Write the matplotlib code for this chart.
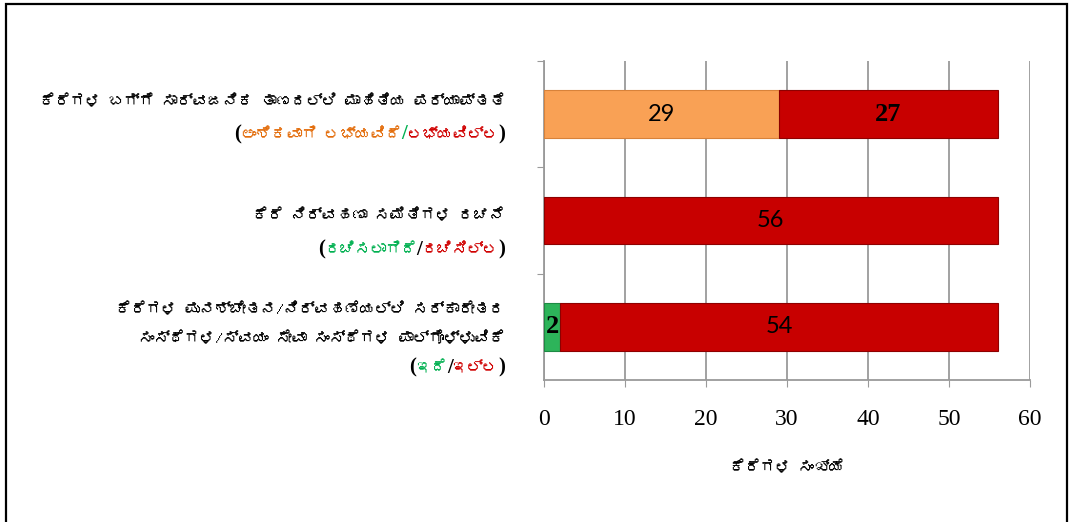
import matplotlib
matplotlib.use("Agg")
import matplotlib.pyplot as plt
from matplotlib import font_manager
from matplotlib.ft2font import FT2Font
from matplotlib.patches import Rectangle


# data (top category first)
CATEGORY_LINES = [
    ["ಕೆರೆಗಳ ಬಗ್ಗೆ ಸಾರ್ವಜನಿಕ ತಾಣದಲ್ಲಿ ಮಾಹಿತಿಯ ಪರ್ಯಾಪ್ತತೆ"],
    ["ಕೆರೆ ನಿರ್ವಹಣಾ ಸಮಿತಿಗಳ ರಚನೆ"],
    ["ಕೆರೆಗಳ ಪುನಶ್ಚೇತನ/ನಿರ್ವಹಣೆಯಲ್ಲಿ ಸರ್ಕಾರೇತರ",
     "ಸಂಸ್ಥೆಗಳ/ಸ್ವಯಂ ಸೇವಾ ಸಂಸ್ಥೆಗಳ ಪಾಲ್ಗೊಳ್ಳುವಿಕೆ"],
]
YES_LABELS = ["ಅಂಶಿಕವಾಗಿ ಲಭ್ಯವಿದೆ", "ರಚಿಸಲಾಗಿದೆ", "ಇದೆ"]
NO_LABELS = ["ಲಭ್ಯವಿಲ್ಲ", "ರಚಿಸಿಲ್ಲ", "ಇಲ್ಲ"]
YES_VALUES = [29, 0, 2]
NO_VALUES = [27, 56, 54]
X_TICKS = [0, 10, 20, 30, 40, 50, 60]
X_LABEL = "ಕೆರೆಗಳ ಸಂಖ್ಯೆ"

ORANGE = "#F9A155"
RED = "#C80000"
GREEN = "#2DB45A"
YES_COLORS = [ORANGE, GREEN, GREEN]
YES_TEXT_COLORS = ["#E36C0A", "#00B050", "#00B050"]
SLASH_COLORS = ["#00B050", "black", "black"]
NO_TEXT_COLOR = "#D00000"
GRID_COLOR = "#9A9A9A"
KN_SIZE = 11


def find_kannada_font():
    for entry in font_manager.fontManager.ttflist:
        try:
            if 0x0C95 in FT2Font(entry.fname).get_charmap():
                return entry.name
        except Exception:
            continue
    return None


kn_font = find_kannada_font()
KN_FAMILY = [kn_font, "DejaVu Sans"] if kn_font else ["DejaVu Sans"]
SERIF = ["Liberation Serif", "DejaVu Serif"]
SANS = ["Lato", "DejaVu Sans"]

fig = plt.figure(figsize=(10.82, 5.22), dpi=100)
ax = fig.add_axes([544 / 1082, 1 - 380 / 522, 486 / 1082, 319 / 522])

y_pos = list(range(len(YES_VALUES)))
bar_h = 0.45

ax.barh(y_pos, YES_VALUES, height=bar_h, color=YES_COLORS,
        edgecolor=["#D8823A", "#1E8A44", "#1E8A44"], linewidth=0.8, zorder=3)
ax.barh(y_pos, NO_VALUES, left=YES_VALUES, height=bar_h, color=RED,
        edgecolor="#8E0000", linewidth=0.8, zorder=3)

# value labels (mixed fonts as in the original)
yes_label_style = [dict(family=SANS, size=17), None, dict(family=SERIF, weight="bold", size=19)]
no_label_style = [dict(family=SERIF, weight="bold", size=19), dict(family=SANS, size=17),
                  dict(family=SANS, size=17)]
for i in y_pos:
    if YES_VALUES[i] > 0:
        ax.text(YES_VALUES[i] / 2, i, str(YES_VALUES[i]), ha="center", va="center",
                color="black", zorder=4, **yes_label_style[i])
    ax.text(YES_VALUES[i] + NO_VALUES[i] / 2, i, str(NO_VALUES[i]), ha="center",
            va="center", color="black", zorder=4, **no_label_style[i])

ax.set_xlim(0, 60)
ax.set_ylim(len(y_pos) - 0.5, -0.5)
ax.set_xticks(X_TICKS)
ax.set_xticklabels([str(t) for t in X_TICKS], fontfamily=SERIF, fontsize=17)
ax.set_yticks([-0.5, 0.5, 1.5])
ax.set_yticklabels([])
ax.tick_params(axis="x", direction="out", length=5, color=GRID_COLOR, pad=16)
ax.tick_params(axis="y", direction="out", length=5, color=GRID_COLOR)
ax.grid(axis="x", color=GRID_COLOR, linewidth=1.3, zorder=0)
ax.set_axisbelow(True)
for side in ["top", "right"]:
    ax.spines[side].set_visible(False)
for side in ["left", "bottom"]:
    ax.spines[side].set_color(GRID_COLOR)
    ax.spines[side].set_linewidth(1.3)

ax.set_xlabel(X_LABEL, fontfamily=KN_FAMILY, fontsize=KN_SIZE, fontweight="bold")
ax.xaxis.set_label_coords(0.5, -0.25)

# category labels: black title lines plus a coloured (yes/no) line
px_per_unit = 319 / 3
line_offsets = [[-14, 19], [-6, 28], [-19, 10, 40]]
label_x = -0.08
for i in y_pos:
    offs = line_offsets[i]
    for j, line in enumerate(CATEGORY_LINES[i]):
        ax.text(label_x, i + (offs[j] + 6) / px_per_unit, line, transform=ax.get_yaxis_transform(),
                ha="right", va="baseline", fontsize=KN_SIZE, fontweight="bold",
                fontfamily=KN_FAMILY, color="black")
    yb = i + (offs[-1] + 6) / px_per_unit
    pieces = [(")", "black", SERIF), (NO_LABELS[i], NO_TEXT_COLOR, KN_FAMILY),
              ("/", SLASH_COLORS[i], SERIF), (YES_LABELS[i], YES_TEXT_COLORS[i], KN_FAMILY),
              ("(", "black", SERIF)]
    prev = ax.text(label_x, yb, pieces[0][0], transform=ax.get_yaxis_transform(),
                   ha="right", va="baseline", fontsize=15, fontweight="bold",
                   fontfamily=SERIF, color="black")
    for txt, col, fam in pieces[1:]:
        prev = ax.annotate(txt, xy=(0, yb), xycoords=(prev, "data"), ha="right",
                           va="baseline", fontsize=15 if fam is SERIF else KN_SIZE,
                           fontweight="bold", fontfamily=fam, color=col,
                           annotation_clip=False)

# outer frame of the chart (its bottom edge lies below the picture)
fig.add_artist(Rectangle((6 / 1082, -0.05), 1061 / 1082, 1.05 - 4 / 522,
                         transform=fig.transFigure, fill=False, edgecolor="black",
                         linewidth=1.6))

fig.savefig("out.png", dpi=100)
